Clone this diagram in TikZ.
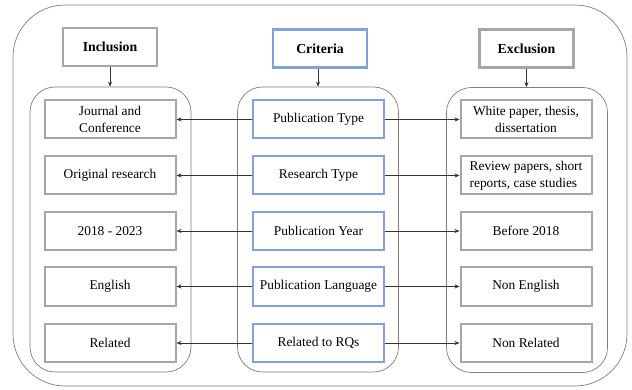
\documentclass[tikz,border=0pt]{standalone}
\usepackage{fontspec}
\setmainfont{Liberation Serif}
\usetikzlibrary{arrows.meta}
\definecolor{boxgray}{RGB}{166,166,166}
\definecolor{critblue}{RGB}{132,160,220}
\definecolor{framegray}{RGB}{125,125,125}
\begin{document}
\begin{tikzpicture}[x=1pt,y=-1pt,
  font=\rmfamily\fontsize{13.4}{17}\selectfont,
  head/.style={draw=boxgray,line width=2.6pt,fill=white,minimum width=94pt,minimum height=38pt,
    inner sep=2pt,font=\rmfamily\fontsize{13.8}{17}\selectfont\bfseries},
  crithead/.style={head,draw=critblue},
  group/.style={draw=framegray,line width=0.7pt,rounded corners=25pt,minimum width=161pt,
    minimum height=285pt,inner sep=0pt},
  item/.style={draw=boxgray,line width=2pt,fill=white,minimum width=131pt,minimum height=38pt,
    inner sep=2pt,align=center},
  crit/.style={item,draw=critblue},
  arr/.style={draw=black!80,line width=0.6pt,-{Stealth[length=5pt,width=4pt]}},
]
\useasboundingbox (0,0) rectangle (632,390);

% outer frame
\node[draw=framegray,line width=0.7pt,rounded corners=52pt,minimum width=614pt,
  minimum height=381pt,inner sep=0pt] (frame) at (320,195.5) {};

% headers
\node[head] (inc) at (110,47) {Inclusion};
\node[crithead] (cri) at (320,48.5) {Criteria};
\node[head] (exc) at (526.5,48.5) {Exclusion};

% column groups
\node[group] (gin) at (110.5,229.5) {};
\node[group] (gcr) at (318,229.5) {};
\node[group] (gex) at (527,230) {};

\draw[arr] (inc.south) -- (inc.south |- gin.north);
\draw[arr] (cri.south -| gcr.north) -- (gcr.north);
\draw[arr] (exc.south) -- (exc.south |- gex.north);

% inclusion items
\node[item] (i1) at (110,119.5) {Journal and\\Conference};
\node[item] (i2) at (110,175.5) {Original research};
\node[item] (i3) at (110,231) {2018 - 2023};
\node[item] (i4) at (110,286.5) {English};
\node[item] (i5) at (110,343) {Related};

% criteria items
\node[crit] (c1) at (318.5,119.5) {Publication Type};
\node[crit] (c2) at (318.5,175.5) {Research Type};
\node[crit] (c3) at (318.5,231) {Publication Year};
\node[crit] (c4) at (318.5,286.5) {Publication Language};
\node[crit] (c5) at (318.5,343) {Related to RQs};

% exclusion items
\node[item] (e1) at (526,119.5) {White paper, thesis,\\dissertation};
\node[item,align=left] (e2) at (526,175.5) {Review papers, short\\reports, case studies};
\node[item] (e3) at (526,231) {Before 2018};
\node[item] (e4) at (526,286.5) {Non English};
\node[item] (e5) at (526,343) {Non Related};

% connectors
\foreach \k in {1,...,5}{
  \draw[arr] (c\k.west) -- (i\k.east);
  \draw[arr] (c\k.east) -- (e\k.west);
}
\end{tikzpicture}
\end{document}
